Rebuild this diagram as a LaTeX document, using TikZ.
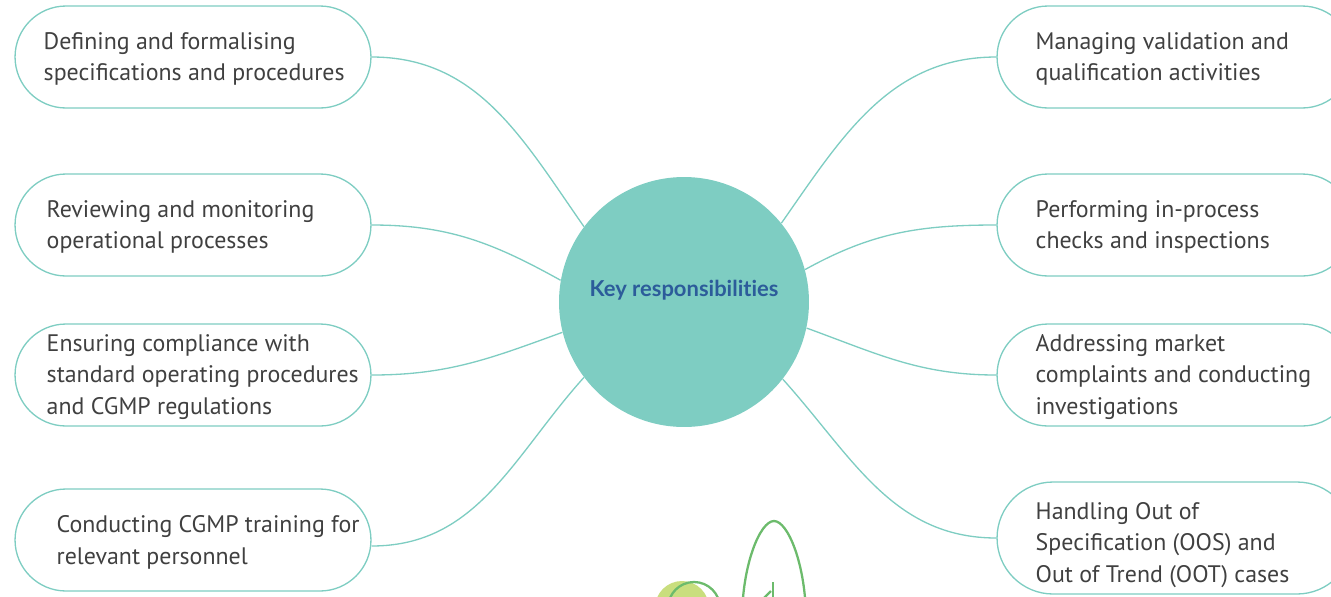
\documentclass[tikz,border=0pt]{standalone}
\usepackage{fontspec}
\setmainfont{PT Sans}
\newfontfamily\hubfont[Ligatures=NoCommon]{Lato}
\usetikzlibrary{shapes.misc}
\definecolor{teal}{HTML}{7ECDC2}
\definecolor{ink}{HTML}{404040}
\definecolor{hubblue}{HTML}{2C5C9A}
\definecolor{leaf}{HTML}{6CBB6C}
\definecolor{lime}{HTML}{C9DE7E}
\begin{document}
\begin{tikzpicture}[
    x=0.02cm, y=0.02cm,
    task/.style={draw=teal,line width=0.75pt,rounded rectangle,
        minimum width=7.12cm,minimum height=2.04cm,inner sep=0pt},
    tasktext/.style={anchor=west,align=left,inner sep=0pt,yshift=-0.04cm,
        text=ink,font=\fontsize{13.6}{18.1}\selectfont},
    link/.style={draw=teal,line width=0.75pt}
]
\useasboundingbox (0,0) rectangle (1331,-596);
\clip (0,0) rectangle (1331,-596);

\node[circle,fill=teal,minimum size=5cm,inner sep=0pt] (hub) at (684,-302) {};
\node[text=hubblue,font=\hubfont\bfseries\fontsize{12.5}{14}\selectfont] (hubtext) at (684,-290) {Key responsibilities};

\node[task] (spec) at (193,-57) {};
\node[task] (review) at (193,-225) {};
\node[task] (sop) at (193,-375) {};
\node[task] (train) at (193,-540) {};
\node[task] (valid) at (1175,-57) {};
\node[task] (check) at (1175,-225) {};
\node[task] (compl) at (1175,-375) {};
\node[task,minimum height=2.24cm] (oos) at (1175,-538) {};

\node[tasktext] (spectext) at ([xshift=0.58cm]spec.west) {Defining and formalising\\specifications and procedures};
\node[tasktext] (reviewtext) at ([xshift=0.64cm]review.west) {Reviewing and monitoring\\operational processes};
\node[tasktext] (soptext) at ([xshift=0.64cm]sop.west) {Ensuring compliance with\\standard operating procedures\\and CGMP regulations};
\node[tasktext] (traintext) at ([xshift=0.84cm]train.west) {Conducting CGMP training for\\relevant personnel};
\node[tasktext] (validtext) at ([xshift=0.78cm]valid.west) {Managing validation and\\qualification activities};
\node[tasktext] (checktext) at ([xshift=0.78cm]check.west) {Performing in-process\\checks and inspections};
\node[tasktext] (compltext) at ([xshift=0.78cm]compl.west) {Addressing market\\complaints and conducting\\investigations};
\node[tasktext,yshift=-0.1cm] (oostext) at ([xshift=0.78cm]oos.west) {Handling Out of\\Specification (OOS) and\\Out of Trend (OOT) cases};

\draw[link] (spec.east) to[out=0,in=125] (hub.143);
\draw[link] (review.east) to[out=0,in=151] (hub.170);
\draw[link] (sop.east) to[out=0,in=200] (hub.194);
\draw[link] ([yshift=-0.12cm]train.east) to[out=0,in=228] (hub.217);

\draw[link] (valid.west) to[out=180,in=55] (hub.39);
\draw[link] (check.west) to[out=180,in=29] (hub.15);
\draw[link] (compl.west) to[out=180,in=-20] (hub.-12);
\draw[link] (oos.west) to[out=180,in=-48] (hub.-38);

% little plant at the bottom
\fill[lime] (682,-608) circle (27);
\draw[leaf,line width=1.3pt] (694,-608) circle (26);
\draw[leaf,line width=1.3pt] (742,-620) .. controls (742,-565) and (760,-521) .. (774,-521)
    .. controls (788,-521) and (806,-565) .. (806,-620);
\draw[leaf,line width=1.3pt] (773,-582) -- (773,-610);
\draw[leaf,line width=1.3pt] (762,-600) -- (771,-591);
\end{tikzpicture}
\end{document}
